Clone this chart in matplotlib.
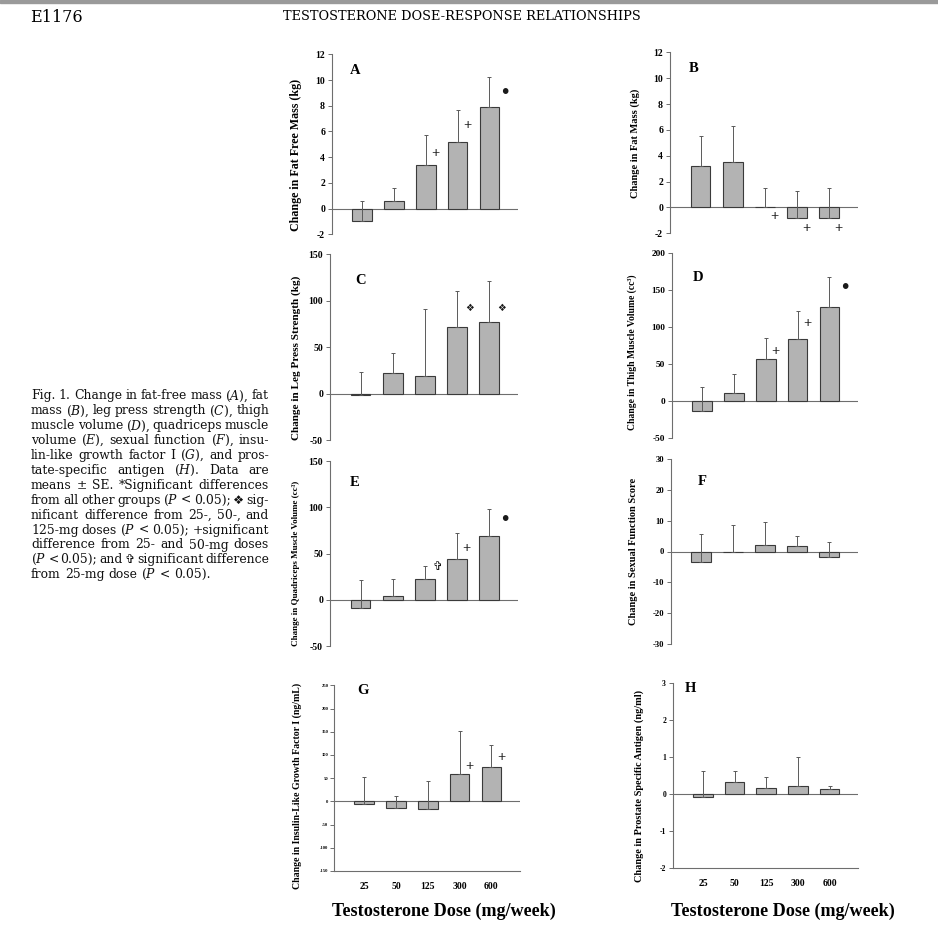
import matplotlib
matplotlib.use('Agg')
import matplotlib.pyplot as plt
from matplotlib.patches import Rectangle
import numpy as np

plt.rcParams['font.family'] = ['Liberation Serif', 'DejaVu Sans']
plt.rcParams['mathtext.fontset'] = 'custom'
plt.rcParams['mathtext.rm'] = 'DejaVu Serif'
plt.rcParams['mathtext.it'] = 'DejaVu Serif:italic'
plt.rcParams['mathtext.bf'] = 'DejaVu Serif:bold'
plt.rcParams['axes.unicode_minus'] = False

# ---------------- data ----------------
doses = ['25', '50', '125', '300', '600']

ffm_mean = [-1.0, 0.6, 3.4, 5.2, 7.9]
ffm_upper = [0.6, 1.6, 5.7, 7.7, 10.2]
ffm_sig = ['', '', '+', '+', '•']
ffm_sig_y = [0, 0, 4.3, 6.5, 9.0]

fm_mean = [3.2, 3.5, 0.0, -0.85, -0.85]
fm_upper = [5.5, 6.3, 1.5, 1.25, 1.5]
fm_sig = ['', '', '+', '+', '+']
fm_sig_y = [0, 0, -0.7, -1.6, -1.6]

leg_mean = [-1, 22, 19, 72, 77]
leg_upper = [23, 44, 91, 110, 121]
leg_sig = ['', '', '', '❖', '❖']
leg_sig_y = [0, 0, 0, 92, 92]

thigh_mean = [-13, 11, 57, 84, 127]
thigh_upper = [19, 36, 86, 122, 168]
thigh_sig = ['', '', '+', '+', '•']
thigh_sig_y = [0, 0, 67, 105, 153]

quad_mean = [-9, 4, 22, 44, 69]
quad_upper = [21, 22, 37, 72, 98]
quad_sig = ['', '', '✞', '+', '•']
quad_sig_y = [0, 0, 36, 55, 86]

sex_mean = [-3.4, 0.0, 2.0, 1.8, -1.9]
sex_upper = [5.8, 8.5, 9.6, 5.0, 3.1]
sex_sig = ['', '', '', '', '']
sex_sig_y = [0, 0, 0, 0, 0]

igf_mean = [-6, -15, -16, 60, 75]
igf_upper = [53, 11, 43, 151, 122]
igf_sig = ['', '', '', '+', '+']
igf_sig_y = [0, 0, 0, 75, 95]

psa_mean = [-0.08, 0.33, 0.16, 0.22, 0.14]
psa_upper = [0.62, 0.63, 0.47, 0.99, 0.22]
psa_sig = ['', '', '', '', '']
psa_sig_y = [0, 0, 0, 0, 0]

# ---------------- layout ----------------
W, H = 938, 932
fig = plt.figure(figsize=(W / 100, H / 100), dpi=100)

panels = [
    dict(letter='A', mean=ffm_mean, upper=ffm_upper, sig=ffm_sig, sig_y=ffm_sig_y,
         ticks=list(range(-2, 13, 2)), box=(332, 518, 54.3, 234.3),
         label='Change in Fat Free Mass (kg)', lab=(296, 155, 154), tfs=7,
         let=(355, 70)),
    dict(letter='B', mean=fm_mean, upper=fm_upper, sig=fm_sig, sig_y=fm_sig_y,
         ticks=list(range(-2, 13, 2)), box=(670, 858, 52.3, 233.3),
         label='Change in Fat Mass (kg)', lab=(635, 143, 110), tfs=7,
         let=(694, 69)),
    dict(letter='C', mean=leg_mean, upper=leg_upper, sig=leg_sig, sig_y=leg_sig_y,
         ticks=list(range(-50, 151, 50)), box=(330, 518, 254.3, 440),
         label='Change in Leg Press Strength (kg)', lab=(296, 358, 167), tfs=7,
         let=(361, 280)),
    dict(letter='D', mean=thigh_mean, upper=thigh_upper, sig=thigh_sig, sig_y=thigh_sig_y,
         ticks=list(range(-50, 201, 50)), box=(672, 858, 253.3, 438),
         label='Change in Thigh Muscle Volume (cc³)', lab=(632, 352, 155), tfs=6.7,
         let=(698, 278)),
    dict(letter='E', mean=quad_mean, upper=quad_upper, sig=quad_sig, sig_y=quad_sig_y,
         ticks=list(range(-50, 151, 50)), box=(330, 518, 461, 646),
         label='Change in Quadriceps Muscle Volume (cc³)', lab=(296, 563, 167), tfs=7,
         let=(355, 482)),
    dict(letter='F', mean=sex_mean, upper=sex_upper, sig=sex_sig, sig_y=sex_sig_y,
         ticks=list(range(-30, 31, 10)), box=(671, 858, 459, 644),
         label='Change in Sexual Function Score', lab=(633, 551, 148), tfs=6.2,
         let=(702, 481)),
    dict(letter='G', mean=igf_mean, upper=igf_upper, sig=igf_sig, sig_y=igf_sig_y,
         ticks=list(range(-150, 251, 50)), box=(334, 520, 685.3, 871),
         label='Change in Insulin-Like Growth Factor I (ng/mL)', lab=(297, 786, 208), tfs=3.3,
         let=(363, 691)),
    dict(letter='H', mean=psa_mean, upper=psa_upper, sig=psa_sig, sig_y=psa_sig_y,
         ticks=list(range(-2, 4, 1)), box=(673, 858, 682.7, 868.3),
         label='Change in Prostate Specific Antigen (ng/ml)', lab=(639, 786, 193), tfs=5.5,
         let=(690, 688)),
]

sig_dx = {'+': 0.3, '•': 0.5, '❖': 0.4, '✞': 0.4}
sig_fs = {'+': 10.5, '•': 15, '❖': 7, '✞': 8.5}

axis_col = '#6e6e6e'
fit_texts = []

for i, p in enumerate(panels):
    x0, x1, yt, yb = p['box']
    ax = fig.add_axes([x0 / W, 1 - yb / H, (x1 - x0) / W, (yb - yt) / H])
    x = np.arange(len(doses))
    mean = np.array(p['mean'], dtype=float)
    upper = np.array(p['upper'], dtype=float)
    ax.bar(x, mean, width=0.62, color='#b3b3b3', edgecolor='#3a3a3a',
           linewidth=0.8, zorder=2)
    ax.errorbar(x, mean, yerr=[np.zeros_like(mean), upper - mean], fmt='none',
                ecolor='#5a5a5a', elinewidth=0.7, capsize=1.6, capthick=0.7, zorder=3)
    ax.axhline(0, color=axis_col, lw=0.8, zorder=1)
    for xi, s, sy in zip(x, p['sig'], p['sig_y']):
        if s:
            ax.text(xi + sig_dx[s], sy, s, ha='center', va='center',
                    fontsize=sig_fs[s], fontweight='bold', color='#1a1a1a',
                    family=['DejaVu Sans'] if s in '❖✞' else ['Liberation Serif', 'DejaVu Sans'],
                    zorder=4)
    ax.set_xlim(-0.95, 4.9)
    ax.set_ylim(min(p['ticks']), max(p['ticks']))
    ax.set_yticks(p['ticks'])
    ax.set_yticklabels([str(t) for t in p['ticks']], fontweight='bold')
    ax.tick_params(axis='y', length=3, width=0.7, color=axis_col, labelsize=p['tfs'],
                   pad=2 if p['tfs'] > 4 else 1)
    for s in ['top', 'right']:
        ax.spines[s].set_visible(False)
    ax.spines['left'].set_color(axis_col)
    ax.spines['left'].set_linewidth(0.8)
    if p['letter'] in ('G', 'H'):
        ax.spines['bottom'].set_color(axis_col)
        ax.spines['bottom'].set_linewidth(0.8)
        ax.set_xticks(x)
        ax.set_xticklabels(doses, fontweight='bold', fontsize=7)
        ax.tick_params(axis='x', length=0, pad=8)
    else:
        ax.spines['bottom'].set_visible(False)
        ax.set_xticks([])
    ax.patch.set_alpha(0)
    lx, ly = p['let']
    fig.text(lx / W, 1 - ly / H, p['letter'], ha='center', va='center',
             fontsize=10.5, fontweight='bold')
    cx, cy, ln = p['lab']
    t = fig.text(cx / W, 1 - cy / H, p['label'], rotation=90, ha='center', va='center',
                 fontsize=7, fontweight='bold')
    fit_texts.append((t, ln, 'h'))

# x-axis titles
for cx in (444, 783):
    t = fig.text(cx / W, 1 - 911 / H, 'Testosterone Dose (mg/week)', ha='center',
                 va='center', fontsize=12, fontweight='bold')
    fit_texts.append((t, 222, 'w'))

# header
fig.patches.append(Rectangle((0, 1 - 3 / H), 1, 3 / H, transform=fig.transFigure,
                             color='#9a9a9a', zorder=0))
fig.text(30 / W, 1 - 17 / H, 'E1176', ha='left', va='center', fontsize=11.5,
         family=['DejaVu Serif'])
t = fig.text(462 / W, 1 - 17 / H, 'TESTOSTERONE DOSE-RESPONSE RELATIONSHIPS',
             ha='center', va='center', fontsize=8.5, family=['DejaVu Serif'])
fit_texts.append((t, 358, 'w'))

renderer = fig.canvas.get_renderer()
for t, target, dim in fit_texts:
    bb = t.get_window_extent(renderer)
    cur = bb.height if dim == 'h' else bb.width
    t.set_fontsize(t.get_fontsize() * target / cur)

# caption (justified)
cap_lines = [
    r'Fig. 1.  Change in fat-free mass ($\mathit{A}$), fat',
    r'mass ($\mathit{B}$), leg press strength ($\mathit{C}$), thigh',
    r'muscle volume ($\mathit{D}$), quadriceps muscle',
    r'volume ($\mathit{E}$), sexual function ($\mathit{F}$), insu-',
    r'lin-like growth factor I ($\mathit{G}$), and pros-',
    r'tate-specific antigen ($\mathit{H}$). Data are',
    r'means ± SE. *Significant differences',
    r'from all other groups ($\mathit{P}$ < 0.05); ❖ sig-',
    r'nificant difference from 25-, 50-, and',
    r'125-mg doses ($\mathit{P}$ < 0.05); +significant',
    r'difference from 25- and 50-mg doses',
    r'($\mathit{P}$ < 0.05); and ✞ significant difference',
    r'from 25-mg dose ($\mathit{P}$ < 0.05).',
]
cap_left, cap_right = 31, 269
cap_top, cap_step = 396, 14.9
fs0 = 9.0


def fam_for(w):
    return ['DejaVu Sans'] if w in ('❖', '✞') else ['DejaVu Serif', 'DejaVu Sans']


def measure(s, fs, fam):
    tt = fig.text(0, 0, s, fontsize=fs, family=fam)
    w = tt.get_window_extent(renderer).width
    tt.remove()
    return w


space0 = measure('a a', fs0, ['DejaVu Serif']) - 2 * measure('a', fs0, ['DejaVu Serif'])
ratios = []
for line in cap_lines[:-1]:
    words = line.split()
    nat = sum(measure(w, fs0, fam_for(w)) for w in words) + 0.5 * space0 * (len(words) - 1)
    ratios.append((cap_right - cap_left) / nat)
cap_fs = fs0 * min(ratios) * 0.995
space_w = space0 * cap_fs / fs0

for li, line in enumerate(cap_lines):
    words = line.split()
    y = 1 - (cap_top + li * cap_step) / H
    objs = [fig.text(0, y, w, ha='left', va='center', fontsize=cap_fs,
                     family=fam_for(w), color='#111111') for w in words]
    widths = [o.get_window_extent(renderer).width for o in objs]
    if li < len(cap_lines) - 1 and len(words) > 1:
        gap = (cap_right - cap_left - sum(widths)) / (len(words) - 1)
    else:
        gap = space_w
    xpos = cap_left
    for o, wd in zip(objs, widths):
        o.set_x(xpos / W)
        xpos += wd + gap

fig.savefig('out.png', dpi=100)
